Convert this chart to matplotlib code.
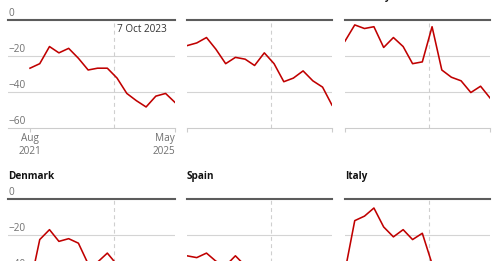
import matplotlib.pyplot as plt
import pandas as pd

plt.rcParams['font.family'] = ['Open Sans', 'DejaVu Sans']

# quarterly survey dates, Aug 2021 - May 2025
dates = pd.to_datetime(['2021-08-01', '2021-11-01', '2022-02-01', '2022-05-01',
                        '2022-08-01', '2022-11-01', '2023-02-01', '2023-05-01',
                        '2023-08-01', '2023-11-01', '2024-02-01', '2024-05-01',
                        '2024-08-01', '2024-11-01', '2025-02-01', '2025-05-01'])
event_date = pd.Timestamp('2023-10-07')
event_label = '7 Oct 2023'

countries = ['Britain', 'France', 'Germany', 'Denmark', 'Spain', 'Italy']
britain = [-27, -24.5, -15, -18.5, -16, -21.5, -28, -27, -27, -32.5,
           -41, -45, -48.5, -42.5, -41, -46]
france = [-14.5, -13, -10, -16.5, -24.5, -21, -22, -25.5, -18.5, -24.5,
          -34.5, -32.5, -28.5, -34, -37.5, -47.5]
germany = [-12, -3, -5, -4, -15.5, -10, -15, -24.5, -23.5, -4,
           -28, -32, -34, -40.5, -37, -43.5]
denmark = [-48, -22.5, -17, -23.5, -22, -24.5, -36, -35, -30, -36.5,
           -42, -47, -50, -46, -44, -48]
spain = [-31.5, -32.5, -30, -34.5, -37, -31.5, -37, -36, -40, -42,
         -45, -44, -47, -50, -48, -52]
italy = [-40, -12, -9.5, -5, -15.5, -21, -17, -22.5, -19, -36,
         -38, -42, -45, -44, -48, -50]
series = [britain, france, germany, denmark, spain, italy]

y_ticks = [0, -20, -40, -60]
x_tick_labels = ['Aug\n2021', 'May\n2025']

RED = '#c00000'
GREY_TXT = '#707070'
FS = 7.2

W, H = 500, 261
fig = plt.figure(figsize=(5, 2.61), dpi=100)

lefts = [8, 187, 345]
tops = [19.5, 199]
plot_w = 145
plot_h = 108.2  # pixels for 0 .. -60
pad_left = 22   # room for y labels on first column

span = dates[-1] - dates[0]

for i, (name, vals) in enumerate(zip(countries, series)):
    row, col = divmod(i, 3)
    x0 = lefts[col]
    w = plot_w + (pad_left if col == 0 else 0)
    top = tops[row]
    ax = fig.add_axes([x0 / W, 1 - (top + plot_h) / H, w / W, plot_h / H])
    left_lim = dates[0] - span * (pad_left / plot_w) if col == 0 else dates[0]
    ax.set_xlim(left_lim, dates[-1])
    ax.set_ylim(-60, 0)

    for s in ['top', 'left', 'right']:
        ax.spines[s].set_visible(False)
    ax.spines['bottom'].set_color('#cccccc')
    ax.spines['bottom'].set_linewidth(0.8)
    ax.set_yticks([])

    for v in y_ticks[1:-1]:
        ax.axhline(v, color='#d4d4d4', lw=0.8, zorder=1)
    ax.axhline(0, color='#5c5c5c', lw=1.5, zorder=2, clip_on=False)
    ax.axvline(event_date, color='#cfcfcf', lw=0.8, ls=(0, (3.5, 3)), zorder=1)

    ax.plot(dates, vals, color=RED, lw=1.15, zorder=3)

    ax.set_xticks([dates[0], dates[-1]])
    ax.tick_params(axis='x', length=3, width=0.8, color='#cccccc',
                   labelsize=FS, labelcolor=GREY_TXT, pad=1.0)
    if i == 0:
        labels = ax.set_xticklabels(x_tick_labels, linespacing=1.2)
        labels[-1].set_horizontalalignment('right')
        ax.text(event_date + pd.Timedelta(days=20), -5.3, event_label,
                fontsize=FS, color='#333333', va='center', ha='left')
    else:
        ax.set_xticklabels([])

    if col == 0:
        for v in y_ticks:
            ax.text(left_lim, v + 2.2, str(v).replace('-', '\u2212'),
                    fontsize=FS, color=GREY_TXT, ha='left', va='baseline')

    ax.annotate(name, xy=(0, 1), xycoords='axes fraction',
                xytext=(0, 14.4), textcoords='offset points',
                fontsize=FS, fontweight='bold', color='#121212',
                ha='left', va='baseline', annotation_clip=False)

fig.savefig('out.png', dpi=100)
